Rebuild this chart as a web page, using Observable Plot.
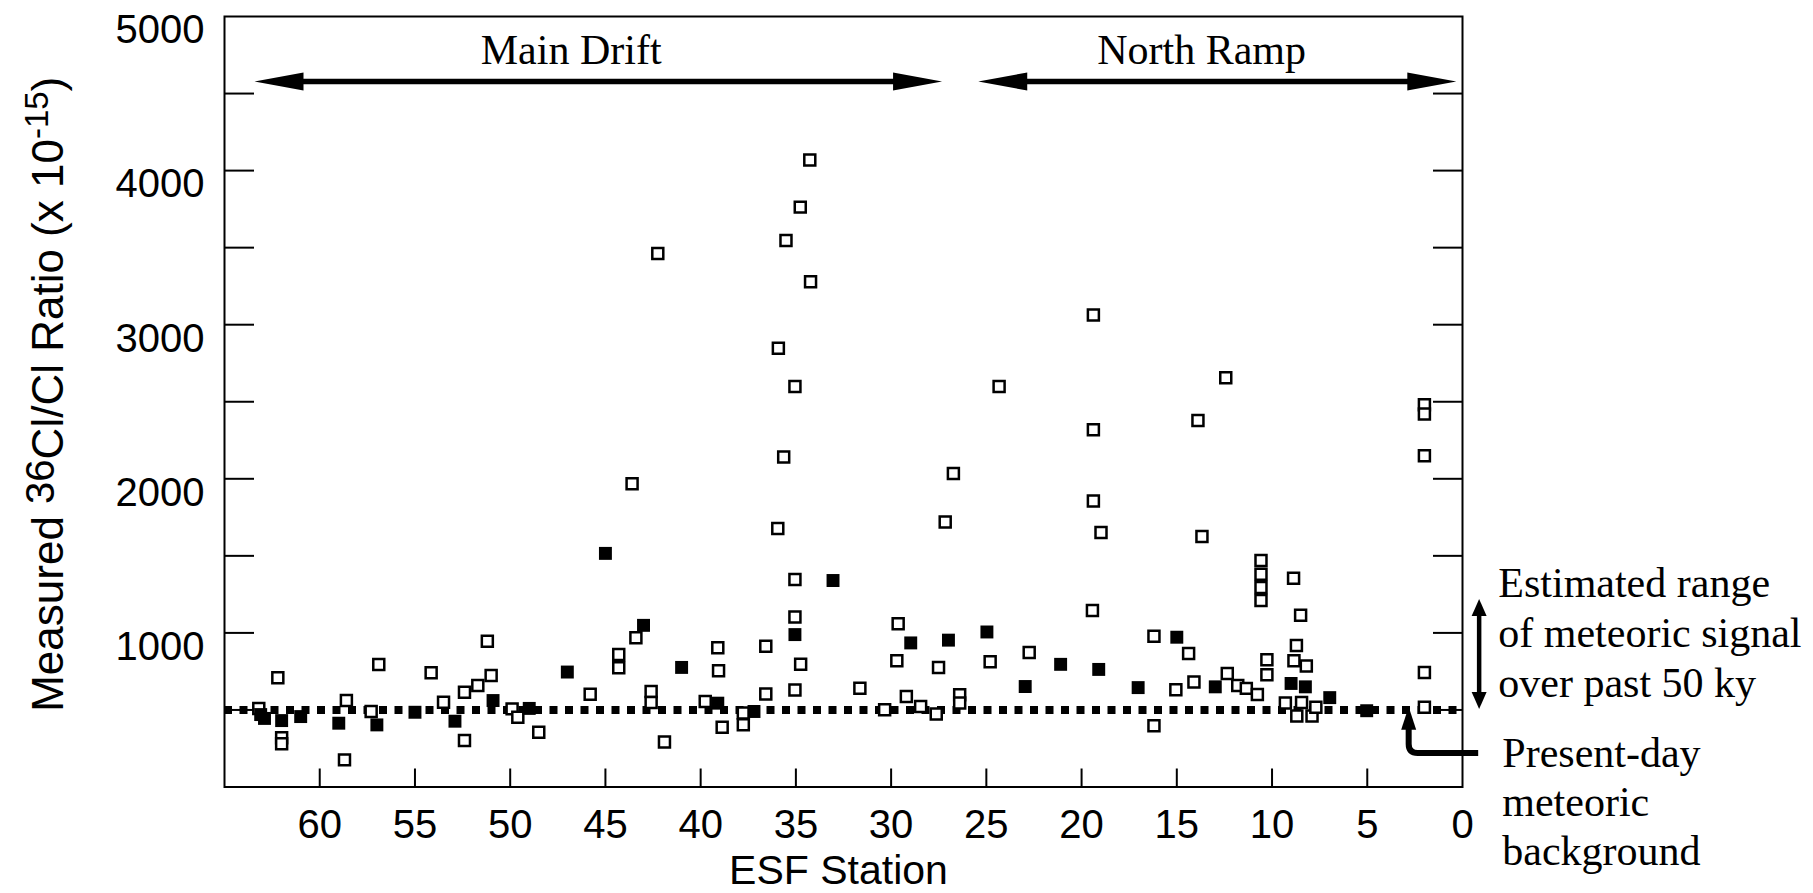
<!DOCTYPE html>
<html><head><meta charset="utf-8">
<script src="https://cdn.jsdelivr.net/npm/d3@7"></script>
<script src="https://cdn.jsdelivr.net/npm/@observablehq/plot@0.6"></script>
<style>
html,body{margin:0;padding:0;background:#fff;}
#chart{position:absolute;left:0;top:0;}
</style></head><body><div id="chart"></div>
<script>
// ---- data: open squares (ESF station, measured 36Cl/Cl x 1e-15) ----
const openStation = [62.2,63.2,62.0,62.0,56.9,58.6,58.7,57.3,54.15,53.5,52.4,52.4,51.7,51.0,51.2,49.9,49.6,48.5,45.8,44.3,44.3,43.6,43.4,42.6,42.6,41.9,42.25,
  39.76,39.1,39.06,38.87,37.76,37.76,36.58,36.58,35.95,35.64,35.05,35.05,34.75,35.05,31.64,29.63,29.7,30.34,29.2,28.45,27.63,27.51,27.16,26.73,26.4,26.4,
  34.27,34.77,35.52,34.23,35.92,35.05,
  24.8,24.33,22.75,19.43,19.38,18.98,19.38,19.38,16.2,16.2,15.05,14.38,14.1,13.68,13.89,12.43,12.35,11.8,11.35,10.77,10.58,10.58,10.58,10.58,10.27,10.27,
  8.87,8.5,8.72,8.85,8.2,9.3,8.45,8.7,7.9,7.7,2.0,2.0,2.0,2.0,2.0];
const openRatio = [709,509,320,280,795,561,176,490,741,550,302,615,659,723,946,507,452,355,602,860,774,1968,968,619,548,292,3462,
  555,903,755,387,404,480,914,604,1677,2142,1346,1103,796,630,641,1060,819,501,587,523,473,776,1720,2034,598,545,
  4069,3763,3547,3278,2847,2599,
  813,2599,873,1146,1856,1652,3063,2319,978,398,631,866,682,1625,2379,2655,736,658,640,600,1470,1380,1295,1210,825,728,
  1355,1115,918,820,785,545,548,460,460,518,2480,2420,2150,743,517];
// ---- data: filled squares ----
const filledStation = [63.1,62.9,62.0,61.0,59.0,57.0,55.0,52.9,50.9,49.0,47.0,45.0,43.0,41.0,39.1,37.2,35.05,33.05,28.97,26.99,24.97,22.96,21.1,19.1,17.03,15.0,12.98,9.0,8.25,6.97,5.03];
const filledRatio = [470,445,431,457,414,403,485,427,561,510,746,1516,1049,776,544,490,989,1340,935,953,1006,652,796,763,645,972,650,672,650,580,495];
// present-day meteoric background
const background = [500];
// ---- ticks ----
const xTickValues = [60,55,50,45,40,35,30,25,20,15,10,5];
const xTickLabels = [60,55,50,45,40,35,30,25,20,15,10,5,0];
const yTickValues = [500,1000,1500,2000,2500,3000,3500,4000,4500];
const yTickLabels = [1000,2000,3000,4000,5000];
// ---- annotations (data units) ----
const segmentNames = ["Main Drift","North Ramp"];
const segmentCenter = [46.8,13.7];
const segmentFrom = [63.4,25.4];
const segmentTo = [27.3,0.3];
const rangeLines = ["Estimated range","of meteoric signal","over past 50 ky"];
const rangeLineRatio = [1230,906,581];
const bgLines = ["Present-day","meteoric","background"];
const bgLineRatio = [133,-185,-503];
const rangeArrow = {station:-0.9, low:503, high:1217};
const bgArrow = {fromStation:-0.85, cornerStation:2.8, ratio:218, tip:518};

const openData = openStation.map((s,i)=>({station:s, ratio:openRatio[i]}));
const filledData = filledStation.map((s,i)=>({station:s, ratio:filledRatio[i]}));
const segData = segmentNames.map((n,i)=>({name:n, c:segmentCenter[i], from:segmentFrom[i], to:segmentTo[i]}));
const rangeData = rangeLines.map((t,i)=>({t, v:rangeLineRatio[i]}));
const bgData = bgLines.map((t,i)=>({t, v:bgLineRatio[i]}));

const NS = "http://www.w3.org/2000/svg";
function el(tag, attrs, txt){const e=document.createElementNS(NS,tag);for(const k in attrs)e.setAttribute(k,attrs[k]);if(txt!=null)e.textContent=txt;return e;}

function annotations(index, scales, values, dim){
  const {x,y} = scales;
  const g = el("g",{});
  const HL=49, HW=9;
  for(const s of segData){
    const x0=x(s.from), x1=x(s.to), yy=y(4575);
    g.append(el("path",{d:`M${x0+HL-2},${yy}H${x1-HL+2}`,stroke:"#000","stroke-width":5.5,fill:"none"}));
    g.append(el("path",{d:`M${x0},${yy}L${x0+HL},${yy-HW}L${x0+HL},${yy+HW}Z`,fill:"#000"}));
    g.append(el("path",{d:`M${x1},${yy}L${x1-HL},${yy-HW}L${x1-HL},${yy+HW}Z`,fill:"#000"}));
  }
  // vertical double arrow
  {
    const xx=x(rangeArrow.station), yt=y(rangeArrow.high), yb=y(rangeArrow.low), L=17, W=7.5;
    g.append(el("path",{d:`M${xx},${yt+L-2}V${yb-L+2}`,stroke:"#000","stroke-width":4.5,fill:"none"}));
    g.append(el("path",{d:`M${xx},${yt}L${xx-W},${yt+L}L${xx+W},${yt+L}Z`,fill:"#000"}));
    g.append(el("path",{d:`M${xx},${yb}L${xx-W},${yb-L}L${xx+W},${yb-L}Z`,fill:"#000"}));
  }
  // L-shaped arrow
  {
    const xs=x(bgArrow.fromStation), xc=x(bgArrow.cornerStation), yy=y(bgArrow.ratio), yt=y(bgArrow.tip), L=23, W=7.5, r=9;
    g.append(el("path",{d:`M${xs},${yy}H${xc+r}Q${xc},${yy} ${xc},${yy-r}V${yt+L-2}`,stroke:"#000","stroke-width":6,fill:"none"}));
    g.append(el("path",{d:`M${xc},${yt}L${xc-W},${yt+L}L${xc+W},${yt+L}Z`,fill:"#000"}));
  }
  // y axis label with superscripts
  const cy = (dim.marginTop + dim.height - dim.marginBottom)/2 - 7;
  const t = el("text",{transform:`translate(63,${cy}) rotate(-90)`,"text-anchor":"middle","font-family":"Liberation Sans, Arial, sans-serif","font-size":44,fill:"#000"});
  t.append(el("tspan",{},"Measured "));
  t.append(el("tspan",{dy:-9,"font-size":40},"36"));
  t.append(el("tspan",{dy:9},"Cl/Cl Ratio (x 10"));
  t.append(el("tspan",{dy:-15,"font-size":33},"-15"));
  t.append(el("tspan",{dy:15},")"));
  g.append(t);
  return g;
}

const chart = Plot.plot({
  width: 1813, height: 893,
  marginLeft: 224, marginRight: 351, marginTop: 16, marginBottom: 106.5,
  x: {domain: [65, 0], axis: null},
  y: {domain: [0, 5000], axis: null},
  style: {fontFamily: "Liberation Sans, Arial, sans-serif", background: "#fff", color: "#000", overflow: "visible"},
  marks: [
    Plot.ruleY(background, {stroke: "#000", strokeWidth: 8, strokeDasharray: "8,7.5"}),
    Plot.frame({stroke: "#000", strokeWidth: 2}),
    Plot.axisY({anchor: "left", ticks: yTickValues, tickSize: -30, tickFormat: () => "", label: null, strokeWidth: 2}),
    Plot.axisY({anchor: "right", ticks: yTickValues, tickSize: -30, tickFormat: () => "", label: null, strokeWidth: 2}),
    Plot.axisY({anchor: "left", ticks: yTickLabels, tickSize: 0, tickPadding: 20, dy: 14, fontSize: 40, label: null, tickFormat: d => String(d)}),
    Plot.axisX({anchor: "bottom", ticks: xTickValues, tickSize: -18, tickFormat: () => "", label: null, strokeWidth: 2}),
    Plot.axisX({anchor: "bottom", ticks: xTickLabels, tickSize: 0, tickPadding: 23, fontSize: 40, label: null, tickFormat: d => String(d)}),
    Plot.dot(openData, {x: "station", y: "ratio", symbol: "square", r: 6.2, fill: "#fff", stroke: "#000", strokeWidth: 2.5}),
    Plot.dot(filledData, {x: "station", y: "ratio", symbol: "square", r: 7.3, fill: "#000"}),
    Plot.text(segData, {x: "c", y: 4695, text: "name", lineAnchor: "bottom", fontFamily: "Liberation Serif, Times New Roman, serif", fontSize: 42, fill: "#000"}),
    Plot.text(rangeData, {x: -1.88, y: "v", text: "t", textAnchor: "start", lineAnchor: "bottom", fontFamily: "Liberation Serif, Times New Roman, serif", fontSize: 42, fill: "#000"}),
    Plot.text(bgData, {x: -2.09, y: "v", text: "t", textAnchor: "start", lineAnchor: "bottom", fontFamily: "Liberation Serif, Times New Roman, serif", fontSize: 42, fill: "#000"}),
    Plot.text(["ESF Station"], {frameAnchor: "bottom", dx: -5, dy: 97, lineAnchor: "bottom", fontSize: 41, fill: "#000"}),
    annotations
  ]
});
document.getElementById("chart").append(chart);
</script></body></html>
